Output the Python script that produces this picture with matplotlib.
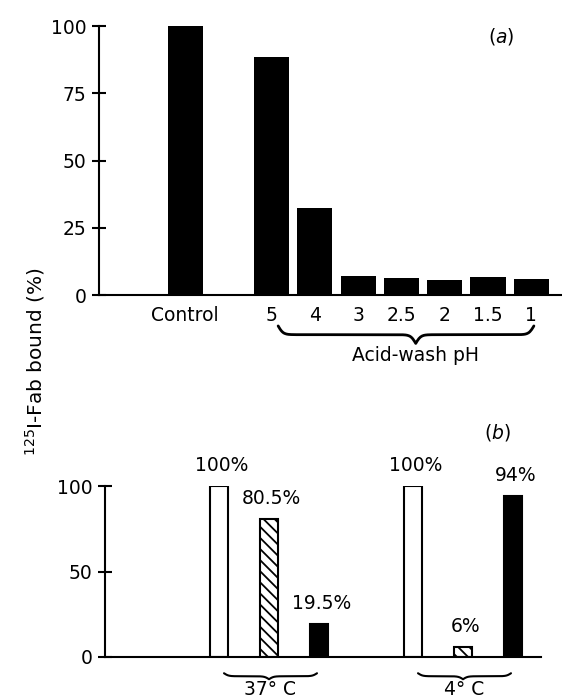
import matplotlib
matplotlib.use('Agg')
from matplotlib import pyplot as plt
import numpy as np

plt.rcParams['font.family'] = ['DejaVu Sans']
plt.rcParams['font.size'] = 13.5
plt.rcParams['mathtext.fontset'] = 'dejavusans'
plt.rcParams['hatch.linewidth'] = 1.3

# panel (a)
a_labels = ['Control', '5', '4', '3', '2.5', '2', '1.5', '1']
a_values = [100, 88.6, 32.2, 6.9, 6.2, 5.7, 6.8, 5.9]
a_yticks = [0, 25, 50, 75, 100]

# panel (b)
b_groups = ['37° C', '4° C']
b_control = [100, 100]
b_hatched = [80.5, 6]
b_black = [19.5, 94]
b_yticks = [0, 50, 100]


def brace(ax, x0, x1, xtip, ytop, depth, beta, lw):
    # curly brace pointing down, drawn in data coords
    def half(xa, xb):
        xs = np.linspace(xa, xb, 150)
        ys = (1 / (1 + np.exp(-beta * (xs - xa))) +
              1 / (1 + np.exp(-beta * (xs - xb))))
        return xs, ys
    xl, yl = half(x0, xtip)
    xr, yr = half(xtip, x1)
    xs = np.concatenate([xl, xr])
    ys = np.concatenate([yl, yr[::-1]])
    ys = ytop - (ys - 0.5) * depth
    ax.plot(xs, ys, color='k', lw=lw, clip_on=False, solid_capstyle='round')


def style_axes(ax, yticks):
    for s in ['top', 'right']:
        ax.spines[s].set_visible(False)
    for s in ['left', 'bottom']:
        ax.spines[s].set_linewidth(1.5)
    ax.set_ylim(0, 100)
    ax.set_yticks(yticks)
    ax.tick_params(axis='y', direction='inout', length=10, width=1.5, pad=4)
    ax.tick_params(axis='x', length=0, pad=8)


fig = plt.figure(figsize=(5.62, 7.0), dpi=100)

ax_a = fig.add_axes([99 / 562, 1 - 295 / 700, 463 / 562, 269 / 700])
a_pos = [0] + list(range(2, len(a_labels) + 1))
ax_a.bar(a_pos, a_values, width=0.81, color='k', clip_on=False)
style_axes(ax_a, a_yticks)
ax_a.set_xlim(-1.99, 8.71)
ax_a.set_xticks(a_pos)
ax_a.set_xticklabels(a_labels)
brace(ax_a, 2.15, 8.06, 5.33, -11.5, 6.5, 17, 2.0)
ax_a.text(5.33, -22.5, 'Acid-wash pH', ha='center', va='center')
ax_a.text(7.3, 96, r'($\it{a}$)', ha='center', va='center')

ax_b = fig.add_axes([105 / 562, 1 - 657 / 700, (541 - 105) / 562, 171 / 700])
group_x = np.array([0, 3.88])
w = 0.36
ax_b.bar(group_x, b_control, width=w, color='white', edgecolor='k', lw=1.5)
ax_b.bar(group_x + 1, b_hatched, width=w, color='white', edgecolor='k',
         lw=1.5, hatch='\\\\\\')
ax_b.bar(group_x + 2, b_black, width=w, color='k', edgecolor='k', lw=1.5)
style_axes(ax_b, b_yticks)
ax_b.set_xlim(-2.28, 6.44)
ax_b.set_xticks([])
for gx, c, h, b, name in zip(group_x, b_control, b_hatched, b_black, b_groups):
    for dx, v in zip([0, 1, 2], [c, h, b]):
        ax_b.text(gx + dx + 0.05, v + 12, f'{v:g}%', ha='center', va='center')
    brace(ax_b, gx + 0.1, gx + 1.96, gx + 1.0, -9.5, 3.5, 22, 1.5)
    ax_b.text(gx + 1.02, -19.2, name, ha='center', va='center')
ax_b.text(5.56, 131, r'($\it{b}$)', ha='center', va='center', clip_on=False)

fig.text(35 / 562, 1 - 362 / 700, r'$^{125}$I-Fab bound (%)', rotation=90,
         ha='center', va='center', fontsize=14.5)

fig.savefig('out.png', dpi=100)
